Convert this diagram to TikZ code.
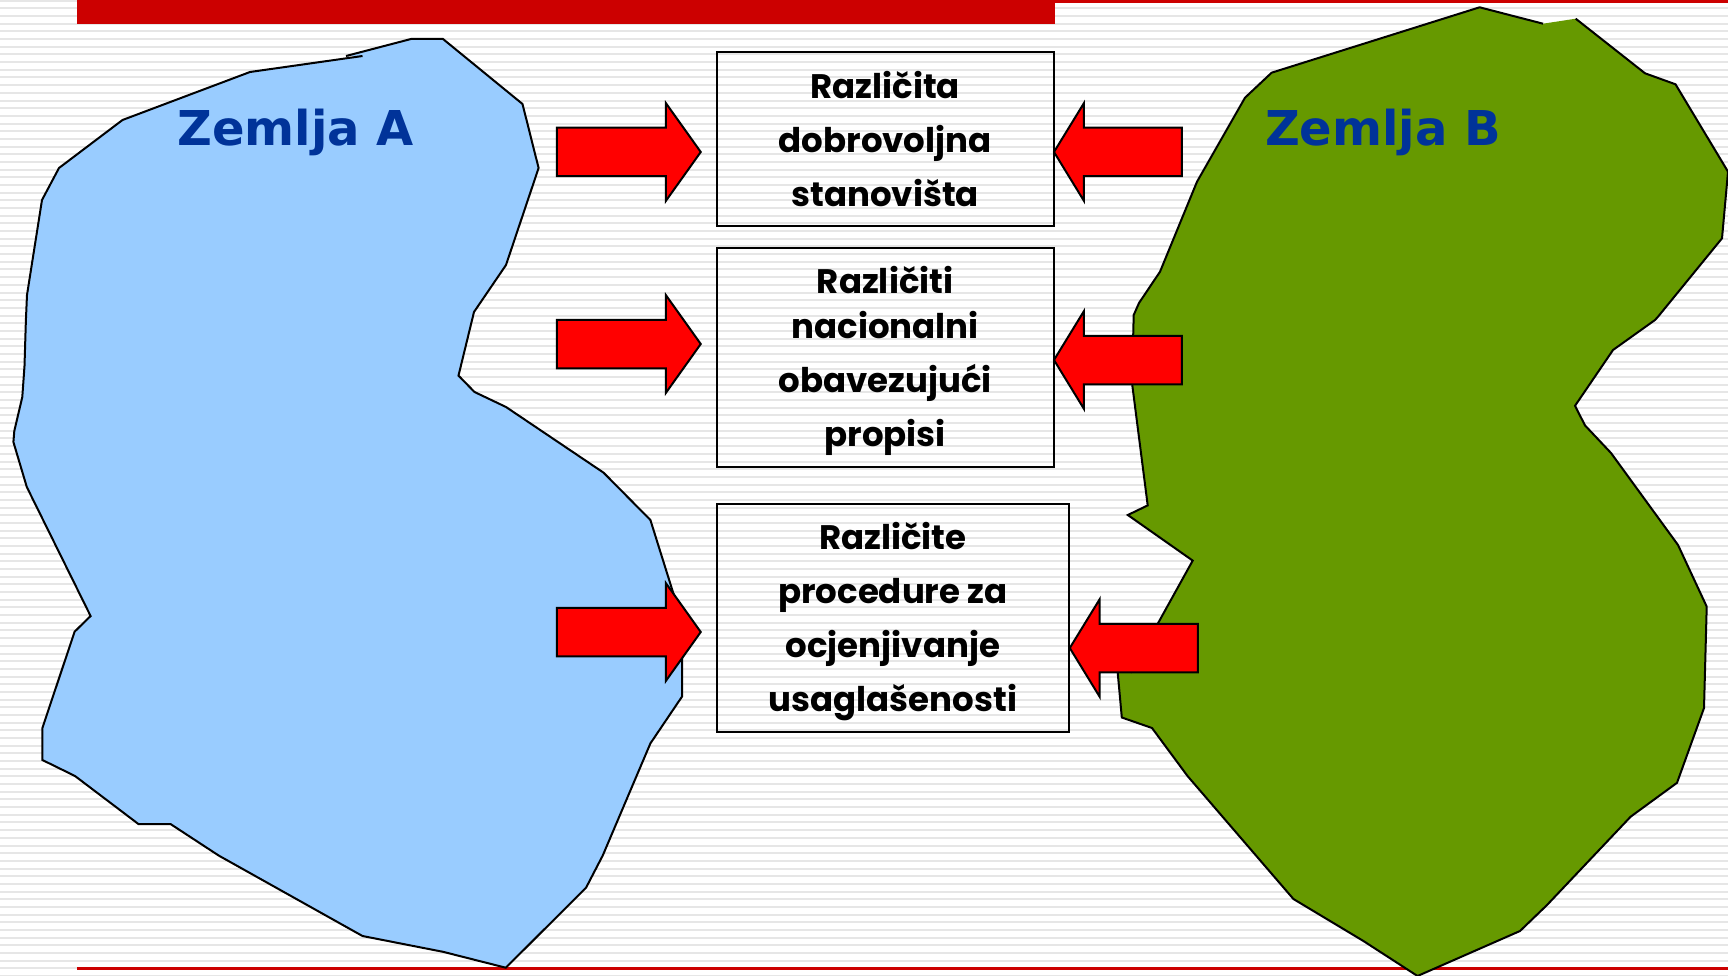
\documentclass[tikz,border=0pt]{standalone}
\usepackage{fontspec}
\usepackage{tikz}
\usetikzlibrary{shapes.arrows}
\newfontfamily\boxfont{Poppins}
\newfontfamily\landfont{DejaVu Sans}
\definecolor{landblue}{HTML}{99CCFF}
\definecolor{landgreen}{HTML}{669900}
\definecolor{titleblue}{HTML}{003399}
\definecolor{barred}{HTML}{CC0000}
\definecolor{stripegray}{HTML}{E6E6E6}
\tikzstyle{topic} = [rectangle, draw=black, line width=2pt, align=center, inner sep=0pt,
font=\fontsize{34}{54}\selectfont\boxfont\bfseries]
\tikzstyle{pusharrow} = [single arrow, draw=black, fill=red, line width=2pt, inner sep=0pt,
text height=46.5pt, text depth=0pt, text width=0pt,
minimum height=144pt, minimum width=95.5pt, single arrow head extend=24.5pt,
single arrow tip angle=109, single arrow head indent=0pt]
\tikzstyle{pushleft} = [pusharrow, shape border rotate=180, minimum height=128pt,
single arrow tip angle=117]
\tikzstyle{landname} = [text=titleblue, inner sep=0pt, font=\fontsize{48}{48}\selectfont\landfont\bfseries]
\tikzstyle{outline} = [draw=black, line width=2pt, line join=miter]
\newcommand{\borderA}{(346,56) -- (411,39) -- (443,39) -- (522.5,104) -- (538.6,168) -- (506,265)
 -- (474,312) -- (458.5,375.6) -- (474.5,392) -- (506,407) -- (603.6,472.7) -- (650.4,520)
 -- (682,621) -- (682,696.6) -- (650.4,743.4) -- (602.7,855.6) -- (586,887.8) -- (505.8,967.7)
 -- (443,951.8) -- (362.5,936) -- (218.8,855.6) -- (170.5,824) -- (138.4,824) -- (75,776)
 -- (42.4,760) -- (42.4,728) -- (74.6,631.7) -- (90.6,616) -- (26.8,487) -- (13.4,442)
 -- (14.3,431) -- (22.3,397) -- (24.5,366) -- (25.9,320) -- (27,295) -- (42,200) -- (59,168)
 -- (122.5,120) -- (250,72) -- (362.5,56)}
\newcommand{\borderB}{(1543,23.7) -- (1479.6,7.3) -- (1271.6,72.7) -- (1245,97.7) -- (1197,181.7)
 -- (1160,271.7) -- (1139,303) -- (1133.7,315) -- (1132,383) -- (1147.7,505.4) -- (1127.8,515)
 -- (1192.7,560.6) -- (1131,672) -- (1117,665) -- (1121.8,717.5) -- (1152,728) -- (1187.5,776)
 -- (1293.4,899) -- (1363.4,941) -- (1417.5,976) -- (1520,931) -- (1547,905) -- (1630.6,816.7)
 -- (1677,782.8) -- (1704,708) -- (1706.7,606.6) -- (1678,545) -- (1611,453) -- (1585,425.4)
 -- (1575,405.8) -- (1613,350) -- (1655,320) -- (1658,316.7) -- (1722,238.3) -- (1728,171.7)
 -- (1675.5,84.3) -- (1645,73.3) -- (1575.7,18.7)}

\begin{document}
\begin{tikzpicture}[x=1pt, y=-1pt, node distance=100pt]
            \useasboundingbox (0,0) rectangle (1728,976);
            % Background
            \fill[white] (0,0) rectangle (1728,976);
            \foreach \n in {0,...,127} {
                \fill[stripegray] (0,{\n*7.68-0.3}) rectangle (1728,{\n*7.68+1.7});
            }
            \fill[barred] (77,0) rectangle (1055,24);
            \fill[barred] (1055,0) rectangle (1728,3);
            \fill[barred] (77,967) rectangle (1728,970);
            % Countries
            \path[fill=landblue] \borderA;
            \draw[outline] \borderA;
            \path[fill=landgreen] \borderB;
            \draw[outline] \borderB;
            \node[landname, anchor=base] (zemljaa) at (295.5,146) {Zemlja A};
            \node[landname, anchor=base] (zemljab) at (1383,146) {Zemlja B};
            % Boxes
            \node[topic, minimum width=336.7pt, minimum height=174pt] (stanovista) at (885.15,139)
                {Različita\\dobrovoljna\\stanovišta};
            \node[topic, below of=stanovista, yshift=-118.2pt, minimum width=336.7pt, minimum height=219pt] (propisi)
                {\rule{0pt}{35pt}Različiti\\[-9pt]nacionalni\\obavezujući\\propisi};
            \node[topic, below of=propisi, xshift=7.75pt, yshift=-160.65pt, minimum width=352.2pt, minimum height=227.7pt] (procedure)
                {\rule{0pt}{34pt}Različite\\procedure za\\ocjenjivanje\\usaglašenosti};
            % Arrows
            \node[pusharrow, left of=stanovista, xshift=-165.05pt, yshift=-13pt] (a1) {};
            \node[pusharrow, left of=propisi, xshift=-165.05pt, yshift=13.2pt] (a2) {};
            \node[pusharrow, left of=procedure, xshift=-172.8pt, yshift=-14.15pt] (a3) {};
            \node[pushleft, right of=stanovista, xshift=140.25pt, yshift=-13pt] (b1) {};
            \node[pushleft, right of=propisi, xshift=140.25pt, yshift=-2.8pt] (b2) {};
            \node[pushleft, right of=procedure, xshift=148.3pt, yshift=-30.15pt] (b3) {};
\end{tikzpicture}
\end{document}
